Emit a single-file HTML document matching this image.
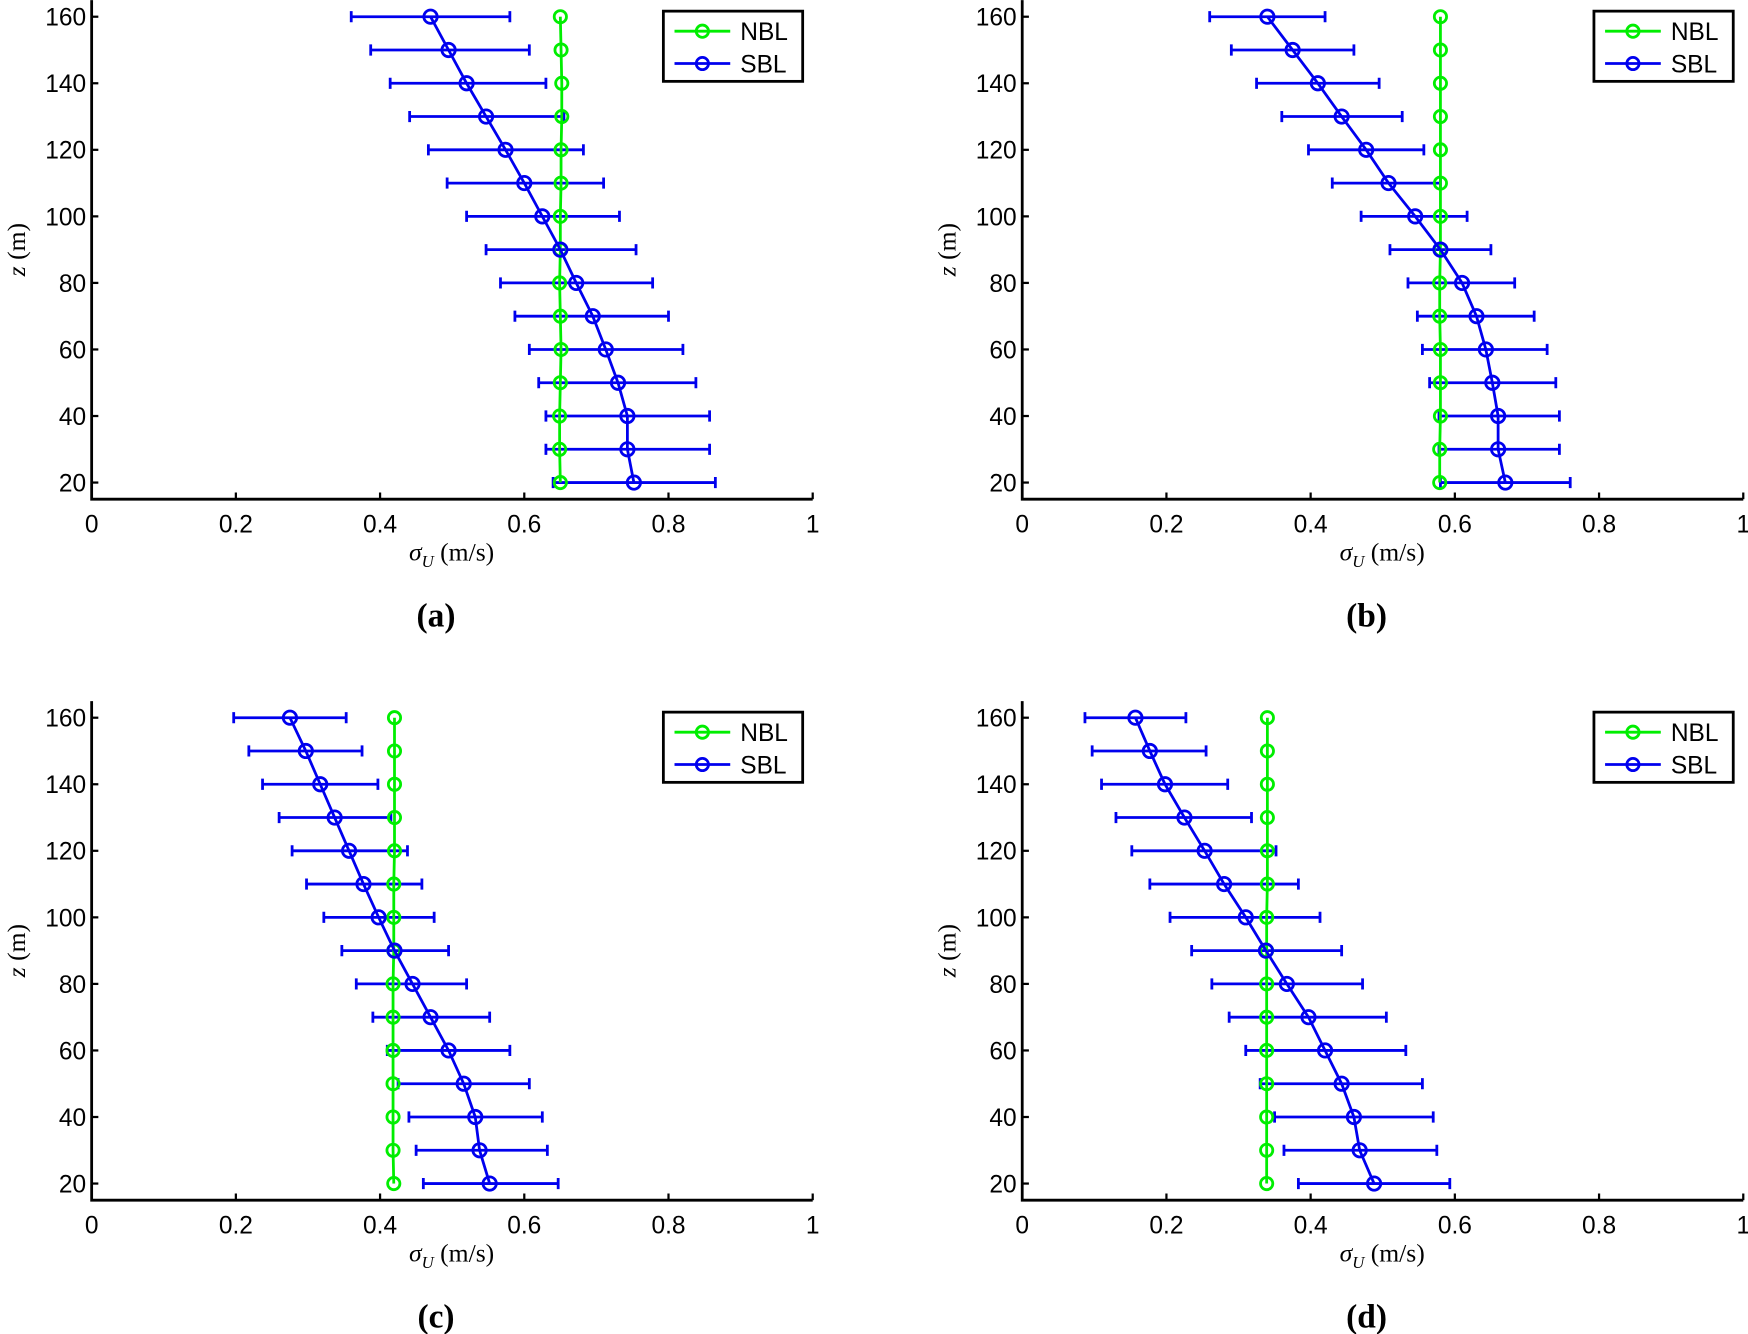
<!DOCTYPE html>
<html><head><meta charset="utf-8"><style>
html,body{margin:0;padding:0;background:#fff}
svg{display:block}
</style></head><body>
<svg id="fig" width="1748" height="1334" viewBox="0 0 1568 1197" xmlns="http://www.w3.org/2000/svg"></svg>
<script>
const heights=[160,150,140,130,120,110,100,90,80,70,60,50,40,30,20];
const xTicks=[0,0.2,0.4,0.6,0.8,1];
const xTickLabels=["0","0.2","0.4","0.6","0.8","1"];
const yTicks=[20,40,60,80,100,120,140,160];
const panelLabels=["(a)","(b)","(c)","(d)"];
const nblA=[0.65,0.651,0.652,0.652,0.651,0.651,0.65,0.65,0.649,0.65,0.651,0.65,0.649,0.649,0.65];
const sblA=[0.47,0.495,0.52,0.547,0.574,0.6,0.625,0.65,0.672,0.695,0.713,0.73,0.743,0.743,0.752];
const loA=[0.36,0.387,0.414,0.441,0.467,0.493,0.52,0.547,0.567,0.587,0.607,0.62,0.63,0.63,0.64];
const hiA=[0.58,0.607,0.63,0.655,0.682,0.71,0.732,0.755,0.778,0.8,0.82,0.838,0.857,0.857,0.865];
const nblB=[0.58,0.58,0.58,0.58,0.58,0.58,0.58,0.58,0.579,0.579,0.58,0.58,0.58,0.579,0.579];
const sblB=[0.34,0.375,0.41,0.443,0.477,0.508,0.545,0.58,0.61,0.63,0.643,0.652,0.66,0.66,0.67];
const loB=[0.26,0.29,0.325,0.36,0.397,0.43,0.47,0.51,0.535,0.548,0.555,0.565,0.578,0.578,0.58];
const hiB=[0.42,0.46,0.495,0.527,0.557,0.58,0.617,0.65,0.683,0.71,0.728,0.74,0.745,0.745,0.76];
const nblC=[0.42,0.42,0.42,0.42,0.42,0.419,0.419,0.419,0.418,0.418,0.418,0.418,0.418,0.418,0.419];
const sblC=[0.275,0.297,0.317,0.337,0.357,0.377,0.398,0.42,0.445,0.47,0.495,0.516,0.532,0.538,0.552];
const loC=[0.197,0.218,0.237,0.26,0.278,0.298,0.322,0.347,0.367,0.39,0.41,0.425,0.44,0.45,0.46];
const hiC=[0.353,0.375,0.397,0.415,0.438,0.458,0.475,0.495,0.52,0.552,0.58,0.607,0.625,0.632,0.647];
const nblD=[0.34,0.34,0.34,0.34,0.34,0.34,0.339,0.339,0.339,0.339,0.339,0.339,0.339,0.339,0.339];
const sblD=[0.157,0.177,0.198,0.225,0.253,0.28,0.31,0.338,0.367,0.397,0.42,0.443,0.46,0.468,0.488];
const loD=[0.087,0.097,0.11,0.13,0.152,0.177,0.205,0.235,0.263,0.287,0.31,0.33,0.35,0.363,0.383];
const hiD=[0.227,0.255,0.285,0.318,0.352,0.383,0.413,0.443,0.472,0.505,0.532,0.555,0.57,0.575,0.593];

const NS="http://www.w3.org/2000/svg";
const svg=document.getElementById('fig');
function mk(tag,attrs,parent){const e=document.createElementNS(NS,tag);for(const k in attrs)e.setAttribute(k,attrs[k]);(parent||svg).appendChild(e);return e;}
const SANS='font-family:"Liberation Sans",sans-serif';
const SERIF='font-family:"Liberation Serif",serif';

const panels=[
 {ox:0,oy:0,nbl:nblA,sbl:sblA,lo:loA,hi:hiA},
 {ox:835,oy:0,nbl:nblB,sbl:sblB,lo:loB,hi:hiB},
 {ox:0,oy:629,nbl:nblC,sbl:sblC,lo:loC,hi:hiC},
 {ox:835,oy:629,nbl:nblD,sbl:sblD,lo:loD,hi:hiD}
];
panels.forEach((p,i)=>{
 const g=mk('g',{transform:`translate(${p.ox},${p.oy})`});
 
 
 const X0=82,X1=729;
 const xs=v=>X0+(X1-X0)*v;
 const ys=z=>15+(160-z)*(418/140);
 const ax=mk('path',{d:`M${X0},${ys(165)}V${ys(15)}H${X1}`,fill:'none',stroke:'#000','stroke-width':2.5},g);
 
 
 xTicks.forEach((t,k)=>{
  mk('line',{x1:xs(t),x2:xs(t),y1:ys(15),y2:ys(15)-6,stroke:'#000','stroke-width':2},g);
  const tl=mk('text',{x:xs(t),y:ys(15)+30,'text-anchor':'middle','font-size':22,style:SANS},g);
  tl.textContent=xTickLabels[k];
  
  
 });
 yTicks.forEach(t=>{
  mk('line',{x1:X0,x2:X0+6,y1:ys(t),y2:ys(t),stroke:'#000','stroke-width':2},g);
  const tl=mk('text',{x:X0-5,y:ys(t)+8,'text-anchor':'end','font-size':22,style:SANS},g);
  tl.textContent=t;
  
  
 });
 const xl=mk('text',{x:405,y:ys(15)+55,'text-anchor':'middle','font-size':23,style:SERIF},g);
 xl.innerHTML='<tspan font-style="italic">σ</tspan><tspan font-style="italic" font-size="15" dy="6">U</tspan><tspan dy="-6">  (m/s)</tspan>';
 
 
 const yl=mk('text',{transform:`translate(22,${ys(90)}) rotate(-90)`,'text-anchor':'middle','font-size':23,style:SERIF},g);
 yl.innerHTML='<tspan font-style="italic">z</tspan>  (m)';
 
 
 const pl=mk('text',{x:391,y:562,'text-anchor':'middle','font-size':30,'font-weight':'bold',style:SERIF},g);
 pl.textContent=panelLabels[i];
 
 
 heights.forEach((z,k)=>{
  const eb=mk('path',{d:`M${xs(p.lo[k])},${ys(z)}H${xs(p.hi[k])}M${xs(p.lo[k])},${ys(z)-5}v10M${xs(p.hi[k])},${ys(z)-5}v10`,stroke:'#0000ee','stroke-width':2.5,fill:'none'},g);
  
  
 });
 const nl=mk('polyline',{points:heights.map((z,k)=>xs(p.nbl[k])+','+ys(z)).join(' '),fill:'none',stroke:'#00ee00','stroke-width':2.5},g);
 
 
 heights.forEach((z,k)=>{
  const c=mk('circle',{cx:xs(p.nbl[k]),cy:ys(z),r:5.5,fill:'none',stroke:'#00ee00','stroke-width':2.5},g);
  
  
 });
 const sl=mk('polyline',{points:heights.map((z,k)=>xs(p.sbl[k])+','+ys(z)).join(' '),fill:'none',stroke:'#0000ee','stroke-width':2.5},g);
 
 
 heights.forEach((z,k)=>{
  const c=mk('circle',{cx:xs(p.sbl[k]),cy:ys(z),r:6,fill:'none',stroke:'#0000ee','stroke-width':2.5},g);
  
  
 });
 const lg=mk('g',{},g);
 
 
 mk('rect',{x:595,y:10,width:125,height:63,fill:'#fff',stroke:'#000','stroke-width':2.5},lg);
 [['NBL','#00ee00',28],['SBL','#0000ee',57]].forEach(([n,c,y])=>{
  const e=mk('g',{},lg);
  
  
  mk('line',{x1:605,x2:655,y1:y,y2:y,stroke:c,'stroke-width':2.5},e);
  mk('circle',{cx:630,cy:y,r:5.5,fill:'none',stroke:c,'stroke-width':2.5},e);
  const t=mk('text',{x:664,y:y+8,'font-size':22,style:SANS},e);
  t.textContent=n;
 });
});
</script>
</body></html>
